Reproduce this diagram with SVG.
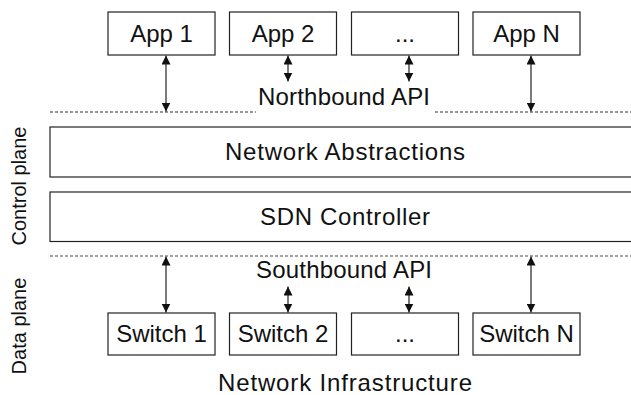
<svg xmlns="http://www.w3.org/2000/svg" width="631" height="395" viewBox="0 0 631 395">
<defs>
<style>
text{font-family:"Liberation Sans",Arial,sans-serif;fill:#111;}
.lbl{font-size:24px;text-anchor:middle;}
.side{font-size:20px;text-anchor:middle;}
.box{fill:#fff;stroke:#222;stroke-width:1.2;}
.arr{stroke:#222;stroke-width:1.2;fill:none;marker-start:url(#ah);marker-end:url(#ah);}
.dashN{stroke:#333;stroke-width:1.2;stroke-dasharray:3,2;fill:none;}
.dashS{stroke:#888;stroke-width:1.5;stroke-dasharray:3,2;fill:none;}
</style>
<marker id="ah" viewBox="0 0 10 10" refX="10" refY="5" markerWidth="9" markerHeight="9" markerUnits="userSpaceOnUse" orient="auto-start-reverse">
<path d="M0,0 L10,5 L0,10 z" fill="#111"/>
</marker>
</defs>
<rect width="631" height="395" fill="#fff"/>
<g id="app1"><rect class="box" x="108" y="12" width="107" height="43"/><text class="lbl" x="161.5" y="42">App 1</text></g>
<g id="app2"><rect class="box" x="229.5" y="12" width="107" height="43"/><text class="lbl" x="283" y="42">App 2</text></g>
<g id="app3"><rect class="box" x="351.5" y="12" width="107" height="43"/><text class="lbl" x="405" y="42">...</text></g>
<g id="appN"><rect class="box" x="473" y="12" width="107" height="43"/><text class="lbl" x="526.5" y="42">App N</text></g>
<g id="northbound"><text class="lbl" x="344" y="105" textLength="172" lengthAdjust="spacing">Northbound API</text></g>
<g id="abstractions"><rect class="box" x="50" y="127" width="600" height="50"/><text class="lbl" x="345" y="160" textLength="240" lengthAdjust="spacing">Network Abstractions</text></g>
<g id="controller"><rect class="box" x="50" y="192" width="600" height="49.5"/><text class="lbl" x="345" y="225" textLength="170" lengthAdjust="spacing">SDN Controller</text></g>
<g id="southbound"><text class="lbl" x="344" y="278" textLength="176" lengthAdjust="spacing">Southbound API</text></g>
<g id="sw1"><rect class="box" x="108" y="313" width="107" height="42"/><text class="lbl" x="161.5" y="342">Switch 1</text></g>
<g id="sw2"><rect class="box" x="229.5" y="313" width="107" height="42"/><text class="lbl" x="283" y="342">Switch 2</text></g>
<g id="sw3"><rect class="box" x="351.5" y="313" width="107" height="42"/><text class="lbl" x="405" y="342">...</text></g>
<g id="swN"><rect class="box" x="473" y="313" width="107" height="42"/><text class="lbl" x="526.5" y="342">Switch N</text></g>
<g id="infra"><text class="lbl" x="345" y="391" textLength="254" lengthAdjust="spacing">Network Infrastructure</text></g>
<g id="control-plane"><text class="side" transform="translate(26,186) rotate(-90)">Control plane</text></g>
<g id="data-plane"><text class="side" transform="translate(26,326) rotate(-90)">Data plane</text></g>
<g id="connectors">
<path class="dashN" d="M50,112 H256 M435,112 H631"/>
<path class="dashS" d="M50,256 H631"/>
<path class="arr" d="M166,55.5 V111.5"/>
<path class="arr" d="M288,55.5 V81.5"/>
<path class="arr" d="M409,55.5 V81.5"/>
<path class="arr" d="M531,55.5 V111.5"/>
<path class="arr" d="M166,256.5 V312.5"/>
<path class="arr" d="M288,286.5 V312.5"/>
<path class="arr" d="M409,286.5 V312.5"/>
<path class="arr" d="M531,256.5 V312.5"/>
</g>
</svg>
